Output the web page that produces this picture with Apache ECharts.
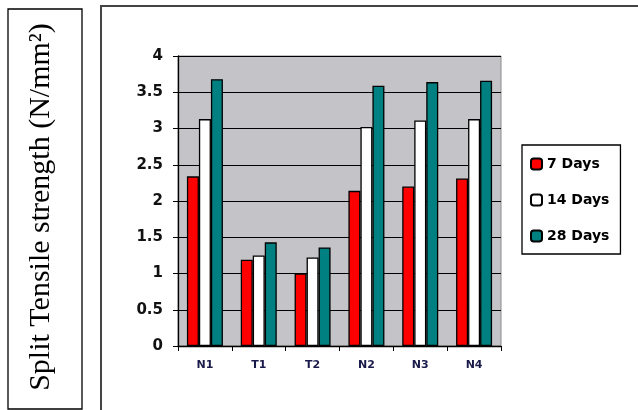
<!DOCTYPE html>
<html>
<head>
<meta charset="utf-8">
<script src="https://cdn.jsdelivr.net/npm/echarts@6/dist/echarts.min.js"></script>
<style>
html,body{margin:0;padding:0;background:#fff;}
#chart{width:638px;height:410px;}
</style>
</head>
<body>
<div id="chart"></div>
<script>
var categories = ['N1', 'T1', 'T2', 'N2', 'N3', 'N4'];
var days7 = [2.34, 1.19, 1.00, 2.14, 2.20, 2.31];
var days14 = [3.13, 1.25, 1.22, 3.02, 3.11, 3.13];
var days28 = [3.68, 1.43, 1.36, 3.59, 3.64, 3.66];
var seriesNames = ['7 Days', '14 Days', '28 Days'];
var yTitle = 'Split Tensile strength (N/mm²)';

var chart = echarts.init(document.getElementById('chart'));
function bar(name, data, color) {
  return {
    name: name, type: 'bar', data: data,
    barWidth: 12, barGap: '0%',
    itemStyle: { color: color, borderColor: '#000', borderWidth: 1.3 }
  };
}
chart.setOption({
  animation: false,
  backgroundColor: '#fff',
  grid: {
    left: 178, top: 56, right: 137, bottom: 64,
    show: true, backgroundColor: '#C4C3C8', borderColor: '#8a8a8a', borderWidth: 1
  },
  legend: {
    orient: 'vertical', left: 522, top: 145,
    padding: [12, 11, 11, 8],
    itemWidth: 11, itemHeight: 11, itemGap: 22,
    borderColor: '#000', borderWidth: 1.3,
    textStyle: { fontFamily: 'DejaVu Sans', fontWeight: 'bold', fontSize: 14, color: '#000', lineHeight: 14 },
    data: seriesNames
  },
  xAxis: {
    type: 'category', data: categories,
    axisLine: { lineStyle: { color: '#000', width: 1.3 } },
    axisTick: { show: true, length: 5, lineStyle: { color: '#000' } },
    axisLabel: { margin: 14, fontFamily: 'DejaVu Sans', fontWeight: 'bold', fontSize: 11, color: '#1a1a4a' }
  },
  yAxis: {
    type: 'value', min: 0, max: 4, interval: 0.5,
    axisLine: { show: true, lineStyle: { color: '#000', width: 1.3 } },
    axisTick: { show: true, length: 5, lineStyle: { color: '#000' } },
    axisLabel: { margin: 15, fontFamily: 'DejaVu Sans', fontWeight: 'bold', fontSize: 15, color: '#111' },
    splitLine: { lineStyle: { color: '#000', width: 1 } }
  },
  graphic: [
    { type: 'rect', shape: { x: 8, y: 9, width: 74, height: 400 },
      style: { fill: 'none', stroke: '#000', lineWidth: 1.3 }, silent: true },
    { type: 'rect', shape: { x: 101, y: 6, width: 560, height: 420 },
      style: { fill: 'none', stroke: '#444', lineWidth: 2 }, silent: true, z: -1 },
    { type: 'text', x: 41, y: 207, rotation: Math.PI / 2,
      style: { text: yTitle, font: '30px "Liberation Serif"', fill: '#000',
        textAlign: 'center', textVerticalAlign: 'middle' } }
  ],
  series: [
    bar(seriesNames[0], days7, '#FF0000'),
    bar(seriesNames[1], days14, '#FFFFFF'),
    bar(seriesNames[2], days28, '#008080')
  ]
});
</script>
</body>
</html>
